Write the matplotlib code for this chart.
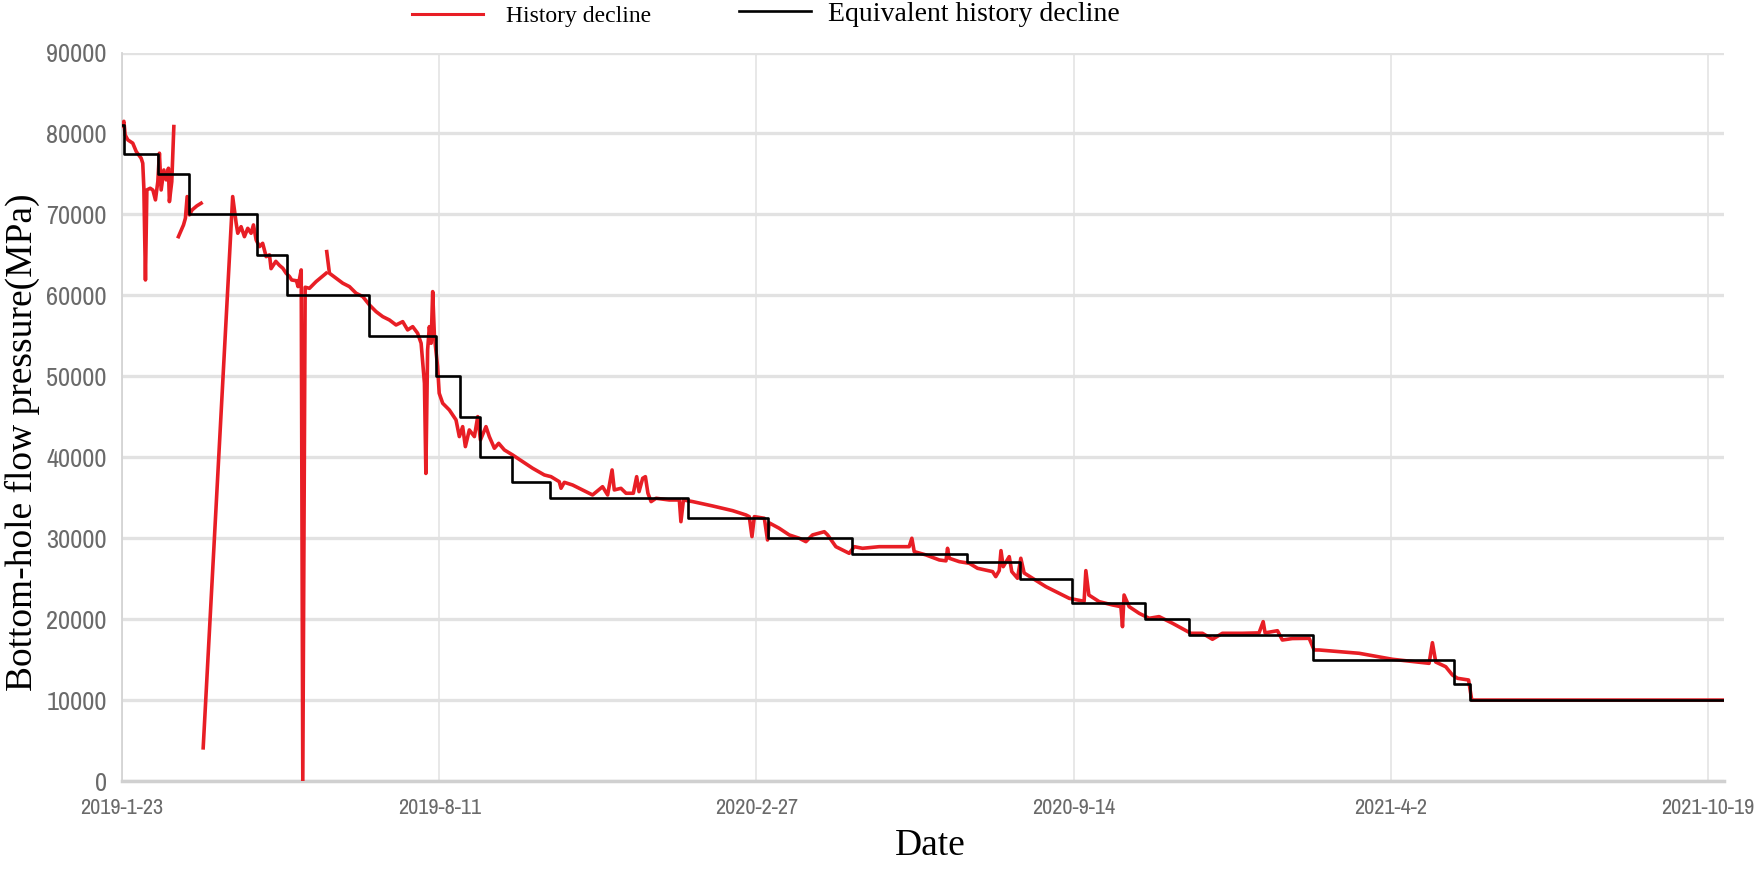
import numpy as np
import pandas as pd
import matplotlib
matplotlib.use('Agg')
import matplotlib.pyplot as plt
from matplotlib.lines import Line2D

nan = np.nan
start_date = pd.Timestamp('2019-01-23')

# days since 2019-1-23 / pressure values (nan = gap in the record)
red_days = [0, 1.2, 2, 3.7, 6.8, 9, 12.1, 13.1, 13.8, 14.8, 15.7, 17.8, 19.5, 21.1, 22.6, 23.6, 24.7,
            26.4, 27.9, 29.3, 29.9, 31.4, 32.7, nan,
            35.6, 38.8, 40, 41.1, 42.5, 44.2, 47.2, 49.9, nan,
            51.2, 69.8, 72, 73, 75.1, 77.2, 79.3, 81.4, 82.9, 84.6, 86.7, 88.7, 90.9, 93, 94, 97,
            99.3, 101.4, 103.5, 105.6, 107, 110, 111, 113, 114, 115.5, 118.2, 122.4, 128.7, nan,
            129.1, 130.8, 135, 139.2, 143.4, 147.6, 151.8, 156, 160.2, 164.4, 168.6, 172.8, 177,
            180.1, 183.3, 186.4, 188.6, 190.7, 191.6, 192.7, 193.8, 194.9, 195.9, 197, 199, 200,
            202.2, 206.4, 210.6, 212.7, 214.8, 216.5, 219, 222.2, 224.3, 226, 229.5, 231.6, 234.8,
            237.5, 241.1, 246.3, 252.6, 258.9, 266.3, 270.5, 275.7, 276.8, 278.9, 284.1, 290.4,
            296.7, 303, 306.2, 309, 310.4, 314.6, 317.8, 322.4, 324.5, 326, 328.3, 330, 331.6,
            333.6, 336.7, 345.1, 351.4, 352.4, 354, 359.8, 372.4, 385, 393.4, 395.5, 397.2, 398.7,
            405, 407, 408, 414.4, 420.7, 427, 431.2, 435.4, 442.8, 444.9, 450.1, 458.5, 461.7,
            466.9, 477.4, 488, 496.3, 498, 499.5, 506.9, 515.3, 519.5, 520.5, 521.6, 527.9, 534.2,
            539.4, 548.9, 550.9, 553.1, 554.2, 555.6, 559.4, 561, 564.6, 566.7, 568.8, 574.1,
            582.5, 590.9, 597.2, 606.6, 607.7, 609.6, 616.1, 624.5, 629.8, 630.8, 631.8, 635,
            641.3, 647.6, 653.9, 662.3, 673.9, 681.2, 687.5, 693.8, 706.4, 716.9, 719.5, 720.7,
            728.5, 731.6, 737.9, 748.5, 751.6, 754.7, 780, 801, 824.1, 826.2, 828.3, 834.6, 838.8,
            842, 849, 851, 1010]
red_vals = [81000, 81500, 79820, 79200, 78800, 77760, 76940, 76320, 73230, 61900, 73020, 73230, 73000,
            71790, 74050, 77560, 73020, 75490, 74260, 75700, 71580, 74050, 80850, nan,
            67250, 68700, 69530, 72200, 69940, 70550, 71050, 71380, nan,
            4100, 72200, 68900, 67670, 68480, 67250, 68280, 67670, 68700, 66840, 66020, 66430,
            64780, 65000, 63300, 64200, 63700, 63350, 62730, 62320, 61900, 61800, 61080, 63140, 0,
            61000, 60870, 61700, 62730, nan,
            65400, 62730, 62110, 61500, 61080, 60260, 59850, 58820, 57990, 57370, 56960, 56340,
            56750, 55730, 56130, 55320, 54080, 49140, 38000, 53260, 56130, 54080, 60460, 54900,
            51200, 47910, 46670, 45840, 44610, 42550, 43780, 41310, 43370, 42550, 45020, 42140,
            43780, 42550, 41110, 41720, 40900, 40280, 39460, 38640, 37810, 37600, 36980, 36170,
            36900, 36570, 35960, 35340, 36360, 35340, 38430, 35960, 36160, 35550, 35550, 37600,
            35750, 37400, 37600, 35550, 34520, 34930, 34720, 34720, 32040, 34720, 34520, 33980,
            33400, 32870, 32660, 30190, 32660, 32460, 29780, 31900, 31220, 30400, 29990, 29570,
            30400, 30800, 30400, 28950, 28130, 28950, 28750, 28950, 28950, 28950, 29990, 28340,
            27930, 27310, 27200, 28750, 27520, 27100, 26900, 26280, 25870, 25250, 26000, 28460,
            26480, 27720, 25870, 25050, 27520, 25700, 25050, 24010, 23190, 22570, 22200, 25990,
            22980, 22160, 21750, 21540, 19070, 22980, 21540, 20720, 20100, 20310, 19490, 18250,
            18250, 17510, 18250, 18250, 18300, 19690, 18300, 18570, 17420, 17600, 17630, 16190,
            16190, 15780, 15040, 14540, 17090, 14700, 14120, 13100, 12690, 12480, 10000, 10000]

step_days = [0, 1, 23, 42, 85, 104, 156, 198, 213, 226, 246, 270, 357, 407, 460, 533, 566, 599,
             645, 673, 751, 840, 850, 1010]
step_vals = [81000, 77500, 75000, 70000, 65000, 60000, 55000, 50000, 45000, 40000, 37000, 35000,
             32500, 30000, 28000, 27000, 25000, 22000, 20000, 18000, 15000, 12000, 10000, 10000]

tick_days = [0, 200, 400, 600, 800, 1000]
y_ticks = [0, 10000, 20000, 30000, 40000, 50000, 60000, 70000, 80000, 90000]

serif = ['Liberation Serif', 'DejaVu Serif']
narrow = ['Liberation Sans Narrow', 'Archivo Narrow', 'Liberation Sans', 'DejaVu Sans']
red = '#e81e25'

fig = plt.figure(figsize=(17.55, 8.75), dpi=100)
ax = fig.add_axes([0.0695, 0.1074, 0.9128, 0.8326])

ax.plot(red_days, red_vals, color=red, lw=2.6, zorder=3)
ax.plot(step_days, step_vals, color='black', lw=1.9, drawstyle='steps-post', zorder=4)

ax.set_xlim(0, 1010)
ax.set_ylim(0, 90000)
ax.set_yticks(y_ticks)
ax.set_yticklabels([str(v) for v in y_ticks], family=narrow, fontsize=19, color='#6a6a6a')
ax.set_xticks(tick_days)
labels = []
for d in tick_days:
    t = start_date + pd.Timedelta(days=d)
    labels.append(f'{t.year}-{t.month}-{t.day}')
ax.set_xticklabels(labels, family=narrow, fontsize=16, color='#6a6a6a')
ax.tick_params(length=0)
ax.tick_params(axis='x', pad=12)
ax.tick_params(axis='y', pad=11)

ax.grid(axis='y', color='#e2e2e2', lw=2.4, zorder=0)
ax.grid(axis='x', color='#e4e4e4', lw=1.2, zorder=0)
ax.set_axisbelow(True)
for s in ['top', 'right']:
    ax.spines[s].set_visible(False)
ax.spines['left'].set_color('#d4d4d4')
ax.spines['left'].set_linewidth(1.3)
ax.spines['bottom'].set_color('#d0d0d0')
ax.spines['bottom'].set_linewidth(2.5)

fig.text(22 / 1755, 1 - 442 / 875, 'Bottom-hole flow pressure(MPa)', rotation=90,
         ha='center', va='center', family=serif, fontsize=27)
fig.text(930 / 1755, 1 - 846 / 875, 'Date', ha='center', va='center', family=serif, fontsize=27)

# two legend entries, drawn separately since the second uses a larger font
leg1 = fig.legend([Line2D([], [], color=red, lw=2.2)], ['History decline'],
                  loc='center left', bbox_to_anchor=(412 / 1755, 1 - 16 / 875), frameon=False,
                  prop={'family': serif, 'size': 17}, handlelength=3.0, handletextpad=1.0,
                  borderpad=0, borderaxespad=0)
leg2 = fig.legend([Line2D([], [], color='black', lw=1.9)], ['Equivalent history decline'],
                  loc='center left', bbox_to_anchor=(739 / 1755, 1 - 14 / 875), frameon=False,
                  prop={'family': serif, 'size': 20}, handlelength=2.6, handletextpad=0.6,
                  borderpad=0, borderaxespad=0)

fig.savefig('out.png', dpi=100)
